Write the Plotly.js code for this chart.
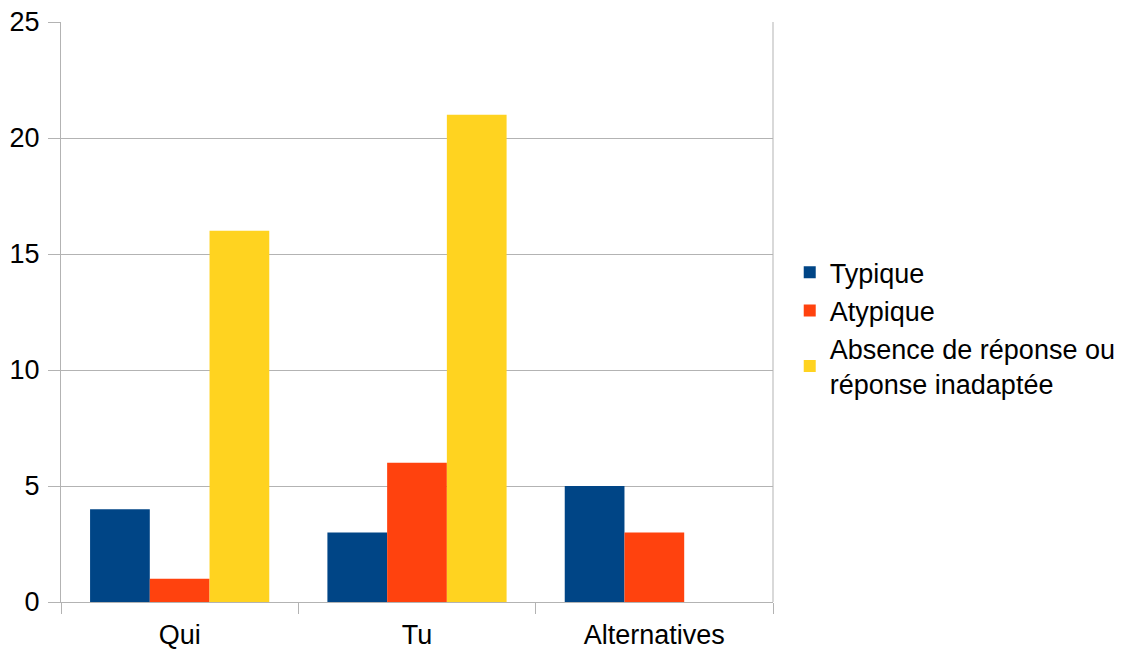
<!DOCTYPE html>
<html>
<head>
<meta charset="utf-8">
<script src="https://cdn.plot.ly/plotly-3.0.1.min.js"></script>
<style>
  html, body { margin: 0; padding: 0; background: #fff; }
  #chart { width: 1121px; height: 649px; }
</style>
</head>
<body>
<div id="chart"></div>
<script>
// Categories and series
const categories = ["Qui", "Tu", "Alternatives"];
const typique = [4, 3, 5];
const atypique = [1, 6, 3];
const absence = [16, 21, 0];
const seriesNames = ["Typique", "Atypique", "Absence de réponse ou<br>réponse inadaptée"];
const seriesColors = ["#004586", "#ff420e", "#ffd320"];
const yTicks = [0, 5, 10, 15, 20, 25];

const gridColor = "#b3b3b3";
const fontFamily = "Liberation Sans, Arial, sans-serif";
const fontSize = 27;

const traces = [typique, atypique, absence].map((vals, i) => ({
  type: "bar",
  x: categories,
  y: vals,
  name: seriesNames[i],
  marker: { color: seriesColors[i], line: { width: 0 } },
  hoverinfo: "x+y+name"
}));

const layout = {
  width: 1121,
  height: 649,
  margin: { l: 61, r: 348, t: 22, b: 47, pad: 0, autoexpand: false },
  paper_bgcolor: "#ffffff",
  plot_bgcolor: "#ffffff",
  font: { family: fontFamily, size: fontSize, color: "#000000" },
  barmode: "group",
  bargap: 0.245,
  bargroupgap: 0,
  showlegend: true,
  legend: {
    x: 1.0235, xanchor: "left",
    y: 0.472, yanchor: "middle",
    font: { family: fontFamily, size: fontSize, color: "#000" },
    itemwidth: 30,
    tracegroupgap: 0,
    bgcolor: "rgba(0,0,0,0)"
  },
  xaxis: {
    type: "category",
    showline: true,
    linecolor: gridColor,
    linewidth: 1,
    ticks: "outside",
    tickson: "boundaries",
    ticklen: 11,
    tickcolor: gridColor,
    tickwidth: 1,
    showgrid: false,
    zeroline: false,
    tickfont: { family: fontFamily, size: fontSize, color: "#000" },
    ticklabelstandoff: 9
  },
  yaxis: {
    range: [0, 25],
    tickvals: yTicks,
    ticktext: yTicks.map(String),
    showline: true,
    linecolor: gridColor,
    linewidth: 1,
    ticks: "outside",
    ticklen: 12,
    tickcolor: gridColor,
    tickwidth: 1,
    showgrid: true,
    gridcolor: gridColor,
    gridwidth: 1,
    zeroline: false,
    tickfont: { family: fontFamily, size: fontSize, color: "#000" },
    ticklabelstandoff: 3
  },
  shapes: [
    {
      type: "line", xref: "paper", yref: "paper",
      x0: 1, x1: 1, y0: 0, y1: 1,
      line: { color: gridColor, width: 1 }
    }
  ]
};

Plotly.newPlot("chart", traces, layout, { displayModeBar: false, staticPlot: true });
</script>
</body>
</html>
